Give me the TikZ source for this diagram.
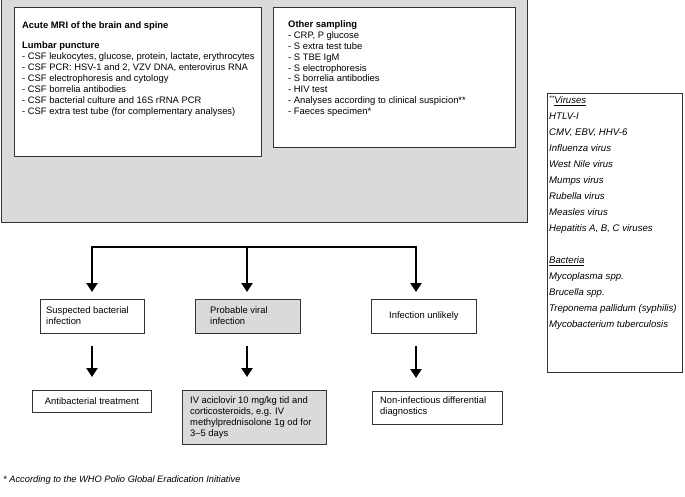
\documentclass[tikz,border=0pt]{standalone}
\usepackage{fontspec}
\setmainfont{Liberation Sans}
\usetikzlibrary{arrows.meta}
\definecolor{panelgray}{HTML}{DADADA}
\definecolor{edgegray}{HTML}{333333}
\begin{document}
\begin{tikzpicture}[x=1pt,y=-1pt,
  txt/.style={inner sep=0pt, align=left, font=\fontsize{9.4}{10.9}\selectfont},
  itxt/.style={inner sep=0pt, align=left, font=\fontsize{9.6}{16.0}\selectfont\itshape},
  wbox/.style={draw=edgegray, line width=0.9pt, fill=white, inner sep=0pt, anchor=north west},
  gbox/.style={wbox, fill=panelgray},
  flowarr/.style={line width=2.8pt, line join=miter, -{Triangle[length=9pt,width=11pt]}}
]
\useasboundingbox (0,0) rectangle (685,497);

% top panel
\node[gbox, minimum width=526pt, minimum height=224pt] (panel) at (1,-2) {};
\node[wbox, minimum width=247pt, minimum height=149pt] (lp) at (14,7) {};
\node[wbox, minimum width=242pt, minimum height=140pt] (os) at (273,7) {};

\node[txt, anchor=north west, font=\fontsize{9.4}{11.1}\selectfont] (lptext) at (22,21.5) {\textbf{Acute MRI of the brain and spine}\\[8.5pt]
\textbf{Lumbar puncture}\\
- CSF leukocytes, glucose, protein, lactate, erythrocytes\\
- CSF PCR: HSV-1 and 2, VZV DNA, enterovirus RNA\\
- CSF electrophoresis and cytology\\
- CSF borrelia antibodies\\
- CSF bacterial culture and 16S rRNA PCR\\
- CSF extra test tube (for complementary analyses)};

\node[txt, anchor=north west, font=\fontsize{9.4}{10.8}\selectfont] (ostext) at (288,20.8) {\textbf{Other sampling}\\
- CRP, P glucose\\
- S extra test tube\\
- S TBE IgM\\
- S electrophoresis\\
- S borrelia antibodies\\
- HIV test\\
- Analyses according to clinical suspicion**\\
- Faeces specimen*};

% side list
\node[wbox, minimum width=135pt, minimum height=279pt] (side) at (547,93) {};
\node[itxt, anchor=north west] (sidetext) at (549,95.5) {\textsuperscript{**}\hspace{-0.5pt}\underline{Viruses}\\
HTLV-I\\
CMV, EBV, HHV-6\\
Influenza virus\\
West Nile virus\\
Mumps virus\\
Rubella virus\\
Measles virus\\
Hepatitis A, B, C viruses\\[16.0pt]
\underline{Bacteria}\\
\textit{Mycoplasma} spp.\\
\textit{Brucella} spp.\\
\textit{Treponema pallidum} (syphilis)\\
\textit{Mycobacterium tuberculosis}};

% row 1
\node[wbox, minimum width=104pt, minimum height=34pt] (s1) at (40,299) {};
\node[gbox, minimum width=105pt, minimum height=34pt] (s2) at (195,299) {};
\node[wbox, minimum width=105pt, minimum height=34pt] (s3) at (371,299) {};
\node[txt, anchor=west] (s1t) at (46,315.5) {Suspected bacterial\\infection};
\node[txt, anchor=west] (s2t) at (210,315.5) {Probable viral\\infection};
\node[txt] (s3t) at (s3.center) {Infection unlikely};

% row 2
\node[wbox, minimum width=119pt, minimum height=22pt] (t1) at (32,390) {};
\node[gbox, minimum width=144pt, minimum height=54pt] (t2) at (182,390) {};
\node[wbox, minimum width=130pt, minimum height=33pt] (t3) at (372,391) {};
\node[txt] (t1t) at (t1.center) {Antibacterial treatment};
\node[txt, anchor=north west] (t2t) at (190,396.5) {IV aciclovir 10 mg/kg tid and\\
corticosteroids, e.g. IV\\
methylprednisolone 1g od for\\
3--5 days};
\node[txt, anchor=west] (t3t) at (380,407) {Non-infectious differential\\diagnostics};

% connectors
\coordinate (x1) at (92,247);
\coordinate (x2) at (247,247);
\coordinate (x3) at (416,247);
\draw[flowarr, shorten >=7pt] (x2) -| (x1 |- s1.north);
\draw[flowarr, shorten >=7pt] (x2) -| (x3 |- s3.north);
\draw[flowarr, shorten >=7pt] (x2) -- (x2 |- s2.north);

\draw[flowarr, shorten <=12pt, shorten >=13pt] (x1 |- s1.south) -- (x1 |- t1.north);
\draw[flowarr, shorten <=12pt, shorten >=13pt] (x2 |- s2.south) -- (x2 |- t2.north);
\draw[flowarr, shorten <=12pt, shorten >=13pt] (x3 |- s3.south) -- (x3 |- t3.north);

% footnote
\node[txt, font=\fontsize{9.3}{10.8}\selectfont\itshape, anchor=west] (foot) at (3,480) {* According to the WHO Polio Global Eradication Initiative};
\end{tikzpicture}
\end{document}
